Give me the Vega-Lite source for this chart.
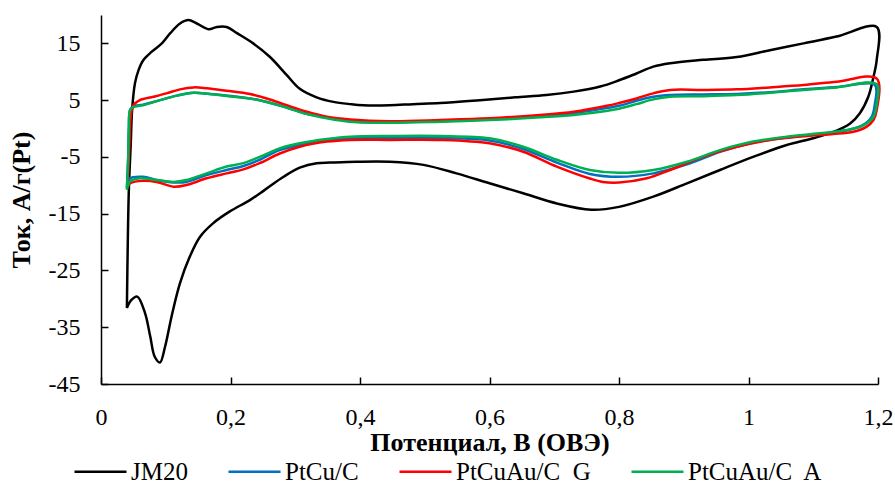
{
  "$schema": "https://vega.github.io/schema/vega-lite/v6.json",
  "width": 777,
  "height": 369,
  "autosize": {"type": "none"},
  "padding": {"left": 101, "top": 15, "right": 17, "bottom": 102},
  "background": "white",
  "config": {"view": {"stroke": null}, "font": "'Liberation Serif', 'Times New Roman', serif"},
  "datasets": {
    "cv": [
      {"s":"JM20","i":1,"x":0.040,"y":-31.6},
      {"s":"JM20","i":2,"x":0.043,"y":-10.8},
      {"s":"JM20","i":3,"x":0.046,"y":-2.6},
      {"s":"JM20","i":4,"x":0.048,"y":3.2},
      {"s":"JM20","i":5,"x":0.0525,"y":8.0},
      {"s":"JM20","i":6,"x":0.058,"y":10.3},
      {"s":"JM20","i":7,"x":0.065,"y":12.0},
      {"s":"JM20","i":8,"x":0.078,"y":13.5},
      {"s":"JM20","i":9,"x":0.094,"y":15.0},
      {"s":"JM20","i":10,"x":0.107,"y":16.8},
      {"s":"JM20","i":11,"x":0.122,"y":18.5},
      {"s":"JM20","i":12,"x":0.135,"y":19.1},
      {"s":"JM20","i":13,"x":0.148,"y":18.5},
      {"s":"JM20","i":14,"x":0.166,"y":17.5},
      {"s":"JM20","i":15,"x":0.179,"y":17.9},
      {"s":"JM20","i":16,"x":0.194,"y":17.9},
      {"s":"JM20","i":17,"x":0.21,"y":16.8},
      {"s":"JM20","i":18,"x":0.235,"y":15.0},
      {"s":"JM20","i":19,"x":0.261,"y":12.6},
      {"s":"JM20","i":20,"x":0.287,"y":9.4},
      {"s":"JM20","i":21,"x":0.307,"y":7.0},
      {"s":"JM20","i":22,"x":0.333,"y":5.5},
      {"s":"JM20","i":23,"x":0.359,"y":4.7},
      {"s":"JM20","i":24,"x":0.385,"y":4.3},
      {"s":"JM20","i":25,"x":0.405,"y":4.1},
      {"s":"JM20","i":26,"x":0.446,"y":4.1},
      {"s":"JM20","i":27,"x":0.482,"y":4.3},
      {"s":"JM20","i":28,"x":0.524,"y":4.5},
      {"s":"JM20","i":29,"x":0.585,"y":5.0},
      {"s":"JM20","i":30,"x":0.64,"y":5.5},
      {"s":"JM20","i":31,"x":0.688,"y":5.9},
      {"s":"JM20","i":32,"x":0.73,"y":6.5},
      {"s":"JM20","i":33,"x":0.771,"y":7.4},
      {"s":"JM20","i":34,"x":0.80,"y":8.5},
      {"s":"JM20","i":35,"x":0.827,"y":9.7},
      {"s":"JM20","i":36,"x":0.853,"y":10.9},
      {"s":"JM20","i":37,"x":0.879,"y":11.5},
      {"s":"JM20","i":38,"x":0.93,"y":12.1},
      {"s":"JM20","i":39,"x":0.982,"y":12.6},
      {"s":"JM20","i":40,"x":1.033,"y":13.8},
      {"s":"JM20","i":41,"x":1.085,"y":15.0},
      {"s":"JM20","i":42,"x":1.136,"y":16.2},
      {"s":"JM20","i":43,"x":1.198,"y":17.9},
      {"s":"JM20","i":44,"x":1.198,"y":12.1},
      {"s":"JM20","i":45,"x":1.193,"y":9.1},
      {"s":"JM20","i":46,"x":1.185,"y":5.6},
      {"s":"JM20","i":47,"x":1.172,"y":2.7},
      {"s":"JM20","i":48,"x":1.157,"y":0.9},
      {"s":"JM20","i":49,"x":1.131,"y":-0.6},
      {"s":"JM20","i":50,"x":1.100,"y":-1.7},
      {"s":"JM20","i":51,"x":1.059,"y":-2.9},
      {"s":"JM20","i":52,"x":1.007,"y":-5.0},
      {"s":"JM20","i":53,"x":0.956,"y":-7.3},
      {"s":"JM20","i":54,"x":0.905,"y":-9.65},
      {"s":"JM20","i":55,"x":0.853,"y":-12.0},
      {"s":"JM20","i":56,"x":0.80,"y":-13.8},
      {"s":"JM20","i":57,"x":0.757,"y":-14.3},
      {"s":"JM20","i":58,"x":0.704,"y":-13.2},
      {"s":"JM20","i":59,"x":0.652,"y":-11.4},
      {"s":"JM20","i":60,"x":0.60,"y":-9.65},
      {"s":"JM20","i":61,"x":0.549,"y":-7.9},
      {"s":"JM20","i":62,"x":0.498,"y":-6.4},
      {"s":"JM20","i":63,"x":0.446,"y":-5.85},
      {"s":"JM20","i":64,"x":0.395,"y":-5.85},
      {"s":"JM20","i":65,"x":0.354,"y":-6.0},
      {"s":"JM20","i":66,"x":0.333,"y":-6.1},
      {"s":"JM20","i":67,"x":0.307,"y":-6.9},
      {"s":"JM20","i":68,"x":0.282,"y":-8.5},
      {"s":"JM20","i":69,"x":0.253,"y":-10.8},
      {"s":"JM20","i":70,"x":0.23,"y":-12.6},
      {"s":"JM20","i":71,"x":0.199,"y":-14.6},
      {"s":"JM20","i":72,"x":0.173,"y":-16.7},
      {"s":"JM20","i":73,"x":0.153,"y":-19.05},
      {"s":"JM20","i":74,"x":0.137,"y":-22.6},
      {"s":"JM20","i":75,"x":0.122,"y":-27.25},
      {"s":"JM20","i":76,"x":0.109,"y":-33.1},
      {"s":"JM20","i":77,"x":0.099,"y":-38.4},
      {"s":"JM20","i":78,"x":0.091,"y":-41.2},
      {"s":"JM20","i":79,"x":0.083,"y":-40.2},
      {"s":"JM20","i":80,"x":0.076,"y":-36.6},
      {"s":"JM20","i":81,"x":0.068,"y":-32.5},
      {"s":"JM20","i":82,"x":0.056,"y":-29.6},
      {"s":"JM20","i":83,"x":0.047,"y":-30.2},
      {"s":"JM20","i":84,"x":0.040,"y":-31.6},

      {"s":"PtCu/C","i":1,"x":0.040,"y":-10.5},
      {"s":"PtCu/C","i":2,"x":0.042,"y":-5.0},
      {"s":"PtCu/C","i":3,"x":0.043,"y":0.0},
      {"s":"PtCu/C","i":4,"x":0.045,"y":3.3},
      {"s":"PtCu/C","i":5,"x":0.05,"y":3.9},
      {"s":"PtCu/C","i":6,"x":0.065,"y":4.2},
      {"s":"PtCu/C","i":7,"x":0.091,"y":5.0},
      {"s":"PtCu/C","i":8,"x":0.117,"y":5.8},
      {"s":"PtCu/C","i":9,"x":0.143,"y":6.3},
      {"s":"PtCu/C","i":10,"x":0.168,"y":6.1},
      {"s":"PtCu/C","i":11,"x":0.204,"y":5.7},
      {"s":"PtCu/C","i":12,"x":0.245,"y":5.0},
      {"s":"PtCu/C","i":13,"x":0.287,"y":3.7},
      {"s":"PtCu/C","i":14,"x":0.318,"y":2.6},
      {"s":"PtCu/C","i":15,"x":0.349,"y":1.9},
      {"s":"PtCu/C","i":16,"x":0.385,"y":1.3},
      {"s":"PtCu/C","i":17,"x":0.446,"y":1.1},
      {"s":"PtCu/C","i":18,"x":0.524,"y":1.3},
      {"s":"PtCu/C","i":19,"x":0.60,"y":1.6},
      {"s":"PtCu/C","i":20,"x":0.678,"y":2.2},
      {"s":"PtCu/C","i":21,"x":0.73,"y":2.7},
      {"s":"PtCu/C","i":22,"x":0.78,"y":3.6},
      {"s":"PtCu/C","i":23,"x":0.80,"y":4.0},
      {"s":"PtCu/C","i":24,"x":0.827,"y":4.9},
      {"s":"PtCu/C","i":25,"x":0.853,"y":5.6},
      {"s":"PtCu/C","i":26,"x":0.879,"y":5.9},
      {"s":"PtCu/C","i":27,"x":0.93,"y":6.0},
      {"s":"PtCu/C","i":28,"x":0.982,"y":6.1},
      {"s":"PtCu/C","i":29,"x":1.033,"y":6.4},
      {"s":"PtCu/C","i":30,"x":1.085,"y":6.9},
      {"s":"PtCu/C","i":31,"x":1.136,"y":7.3},
      {"s":"PtCu/C","i":32,"x":1.195,"y":7.7},
      {"s":"PtCu/C","i":33,"x":1.195,"y":4.2},
      {"s":"PtCu/C","i":34,"x":1.19,"y":2.0},
      {"s":"PtCu/C","i":35,"x":1.175,"y":0.5},
      {"s":"PtCu/C","i":36,"x":1.15,"y":-0.35},
      {"s":"PtCu/C","i":37,"x":1.11,"y":-0.95},
      {"s":"PtCu/C","i":38,"x":1.059,"y":-1.6},
      {"s":"PtCu/C","i":39,"x":1.007,"y":-2.5},
      {"s":"PtCu/C","i":40,"x":0.956,"y":-4.1},
      {"s":"PtCu/C","i":41,"x":0.905,"y":-6.3},
      {"s":"PtCu/C","i":42,"x":0.853,"y":-7.9},
      {"s":"PtCu/C","i":43,"x":0.80,"y":-8.5},
      {"s":"PtCu/C","i":44,"x":0.755,"y":-8.0},
      {"s":"PtCu/C","i":45,"x":0.704,"y":-6.0},
      {"s":"PtCu/C","i":46,"x":0.652,"y":-3.6},
      {"s":"PtCu/C","i":47,"x":0.60,"y":-2.1},
      {"s":"PtCu/C","i":48,"x":0.524,"y":-1.7},
      {"s":"PtCu/C","i":49,"x":0.446,"y":-1.7},
      {"s":"PtCu/C","i":50,"x":0.385,"y":-1.7},
      {"s":"PtCu/C","i":51,"x":0.349,"y":-2.1},
      {"s":"PtCu/C","i":52,"x":0.307,"y":-2.9},
      {"s":"PtCu/C","i":53,"x":0.276,"y":-3.8},
      {"s":"PtCu/C","i":54,"x":0.245,"y":-5.5},
      {"s":"PtCu/C","i":55,"x":0.22,"y":-6.6},
      {"s":"PtCu/C","i":56,"x":0.194,"y":-7.3},
      {"s":"PtCu/C","i":57,"x":0.163,"y":-8.2},
      {"s":"PtCu/C","i":58,"x":0.132,"y":-9.4},
      {"s":"PtCu/C","i":59,"x":0.112,"y":-9.5},
      {"s":"PtCu/C","i":60,"x":0.086,"y":-9.07},
      {"s":"PtCu/C","i":61,"x":0.065,"y":-8.5},
      {"s":"PtCu/C","i":62,"x":0.045,"y":-8.77},
      {"s":"PtCu/C","i":63,"x":0.040,"y":-10.5},

      {"s":"PtCuAu/C\u00a0 G","i":1,"x":0.041,"y":-10.3},
      {"s":"PtCuAu/C\u00a0 G","i":2,"x":0.043,"y":-5.0},
      {"s":"PtCuAu/C\u00a0 G","i":3,"x":0.044,"y":-2.6},
      {"s":"PtCuAu/C\u00a0 G","i":4,"x":0.046,"y":2.1},
      {"s":"PtCuAu/C\u00a0 G","i":5,"x":0.05,"y":4.1},
      {"s":"PtCuAu/C\u00a0 G","i":6,"x":0.06,"y":5.0},
      {"s":"PtCuAu/C\u00a0 G","i":7,"x":0.081,"y":5.6},
      {"s":"PtCuAu/C\u00a0 G","i":8,"x":0.101,"y":6.2},
      {"s":"PtCuAu/C\u00a0 G","i":9,"x":0.122,"y":6.9},
      {"s":"PtCuAu/C\u00a0 G","i":10,"x":0.143,"y":7.25},
      {"s":"PtCuAu/C\u00a0 G","i":11,"x":0.163,"y":7.1},
      {"s":"PtCuAu/C\u00a0 G","i":12,"x":0.194,"y":6.65},
      {"s":"PtCuAu/C\u00a0 G","i":13,"x":0.23,"y":6.07},
      {"s":"PtCuAu/C\u00a0 G","i":14,"x":0.256,"y":5.3},
      {"s":"PtCuAu/C\u00a0 G","i":15,"x":0.287,"y":4.1},
      {"s":"PtCuAu/C\u00a0 G","i":16,"x":0.318,"y":2.96},
      {"s":"PtCuAu/C\u00a0 G","i":17,"x":0.349,"y":2.08},
      {"s":"PtCuAu/C\u00a0 G","i":18,"x":0.385,"y":1.6},
      {"s":"PtCuAu/C\u00a0 G","i":19,"x":0.446,"y":1.3},
      {"s":"PtCuAu/C\u00a0 G","i":20,"x":0.524,"y":1.5},
      {"s":"PtCuAu/C\u00a0 G","i":21,"x":0.60,"y":1.8},
      {"s":"PtCuAu/C\u00a0 G","i":22,"x":0.678,"y":2.4},
      {"s":"PtCuAu/C\u00a0 G","i":23,"x":0.73,"y":2.96},
      {"s":"PtCuAu/C\u00a0 G","i":24,"x":0.781,"y":4.0},
      {"s":"PtCuAu/C\u00a0 G","i":25,"x":0.80,"y":4.5},
      {"s":"PtCuAu/C\u00a0 G","i":26,"x":0.827,"y":5.3},
      {"s":"PtCuAu/C\u00a0 G","i":27,"x":0.853,"y":6.2},
      {"s":"PtCuAu/C\u00a0 G","i":28,"x":0.879,"y":6.8},
      {"s":"PtCuAu/C\u00a0 G","i":29,"x":0.93,"y":6.8},
      {"s":"PtCuAu/C\u00a0 G","i":30,"x":0.982,"y":6.9},
      {"s":"PtCuAu/C\u00a0 G","i":31,"x":1.033,"y":7.25},
      {"s":"PtCuAu/C\u00a0 G","i":32,"x":1.085,"y":7.66},
      {"s":"PtCuAu/C\u00a0 G","i":33,"x":1.136,"y":8.24},
      {"s":"PtCuAu/C\u00a0 G","i":34,"x":1.198,"y":8.8},
      {"s":"PtCuAu/C\u00a0 G","i":35,"x":1.198,"y":3.26},
      {"s":"PtCuAu/C\u00a0 G","i":36,"x":1.193,"y":1.5},
      {"s":"PtCuAu/C\u00a0 G","i":37,"x":1.182,"y":0.3},
      {"s":"PtCuAu/C\u00a0 G","i":38,"x":1.162,"y":-0.56},
      {"s":"PtCuAu/C\u00a0 G","i":39,"x":1.131,"y":-0.97},
      {"s":"PtCuAu/C\u00a0 G","i":40,"x":1.090,"y":-1.3},
      {"s":"PtCuAu/C\u00a0 G","i":41,"x":1.033,"y":-2.0},
      {"s":"PtCuAu/C\u00a0 G","i":42,"x":0.982,"y":-3.2},
      {"s":"PtCuAu/C\u00a0 G","i":43,"x":0.930,"y":-4.96},
      {"s":"PtCuAu/C\u00a0 G","i":44,"x":0.879,"y":-7.3},
      {"s":"PtCuAu/C\u00a0 G","i":45,"x":0.843,"y":-8.77},
      {"s":"PtCuAu/C\u00a0 G","i":46,"x":0.80,"y":-9.5},
      {"s":"PtCuAu/C\u00a0 G","i":47,"x":0.775,"y":-9.4},
      {"s":"PtCuAu/C\u00a0 G","i":48,"x":0.755,"y":-8.8},
      {"s":"PtCuAu/C\u00a0 G","i":49,"x":0.704,"y":-6.7},
      {"s":"PtCuAu/C\u00a0 G","i":50,"x":0.652,"y":-4.08},
      {"s":"PtCuAu/C\u00a0 G","i":51,"x":0.60,"y":-2.6},
      {"s":"PtCuAu/C\u00a0 G","i":52,"x":0.524,"y":-2.0},
      {"s":"PtCuAu/C\u00a0 G","i":53,"x":0.446,"y":-2.0},
      {"s":"PtCuAu/C\u00a0 G","i":54,"x":0.385,"y":-2.0},
      {"s":"PtCuAu/C\u00a0 G","i":55,"x":0.349,"y":-2.3},
      {"s":"PtCuAu/C\u00a0 G","i":56,"x":0.307,"y":-3.2},
      {"s":"PtCuAu/C\u00a0 G","i":57,"x":0.276,"y":-4.4},
      {"s":"PtCuAu/C\u00a0 G","i":58,"x":0.245,"y":-6.1},
      {"s":"PtCuAu/C\u00a0 G","i":59,"x":0.22,"y":-7.2},
      {"s":"PtCuAu/C\u00a0 G","i":60,"x":0.194,"y":-7.9},
      {"s":"PtCuAu/C\u00a0 G","i":61,"x":0.163,"y":-8.77},
      {"s":"PtCuAu/C\u00a0 G","i":62,"x":0.132,"y":-9.95},
      {"s":"PtCuAu/C\u00a0 G","i":63,"x":0.112,"y":-10.25},
      {"s":"PtCuAu/C\u00a0 G","i":64,"x":0.086,"y":-9.4},
      {"s":"PtCuAu/C\u00a0 G","i":65,"x":0.065,"y":-9.2},
      {"s":"PtCuAu/C\u00a0 G","i":66,"x":0.045,"y":-9.65},
      {"s":"PtCuAu/C\u00a0 G","i":67,"x":0.041,"y":-10.3},

      {"s":"PtCuAu/C\u00a0 A","i":1,"x":0.040,"y":-10.8},
      {"s":"PtCuAu/C\u00a0 A","i":2,"x":0.042,"y":-5.0},
      {"s":"PtCuAu/C\u00a0 A","i":3,"x":0.043,"y":0.0},
      {"s":"PtCuAu/C\u00a0 A","i":4,"x":0.045,"y":3.26},
      {"s":"PtCuAu/C\u00a0 A","i":5,"x":0.05,"y":3.8},
      {"s":"PtCuAu/C\u00a0 A","i":6,"x":0.065,"y":4.1},
      {"s":"PtCuAu/C\u00a0 A","i":7,"x":0.091,"y":5.0},
      {"s":"PtCuAu/C\u00a0 A","i":8,"x":0.117,"y":5.8},
      {"s":"PtCuAu/C\u00a0 A","i":9,"x":0.143,"y":6.3},
      {"s":"PtCuAu/C\u00a0 A","i":10,"x":0.168,"y":6.07},
      {"s":"PtCuAu/C\u00a0 A","i":11,"x":0.204,"y":5.6},
      {"s":"PtCuAu/C\u00a0 A","i":12,"x":0.245,"y":5.0},
      {"s":"PtCuAu/C\u00a0 A","i":13,"x":0.287,"y":3.66},
      {"s":"PtCuAu/C\u00a0 A","i":14,"x":0.318,"y":2.55},
      {"s":"PtCuAu/C\u00a0 A","i":15,"x":0.349,"y":1.8},
      {"s":"PtCuAu/C\u00a0 A","i":16,"x":0.385,"y":1.2},
      {"s":"PtCuAu/C\u00a0 A","i":17,"x":0.446,"y":1.0},
      {"s":"PtCuAu/C\u00a0 A","i":18,"x":0.524,"y":1.2},
      {"s":"PtCuAu/C\u00a0 A","i":19,"x":0.60,"y":1.5},
      {"s":"PtCuAu/C\u00a0 A","i":20,"x":0.678,"y":1.97},
      {"s":"PtCuAu/C\u00a0 A","i":21,"x":0.73,"y":2.4},
      {"s":"PtCuAu/C\u00a0 A","i":22,"x":0.78,"y":3.1},
      {"s":"PtCuAu/C\u00a0 A","i":23,"x":0.80,"y":3.5},
      {"s":"PtCuAu/C\u00a0 A","i":24,"x":0.827,"y":4.3},
      {"s":"PtCuAu/C\u00a0 A","i":25,"x":0.853,"y":5.14},
      {"s":"PtCuAu/C\u00a0 A","i":26,"x":0.879,"y":5.6},
      {"s":"PtCuAu/C\u00a0 A","i":27,"x":0.93,"y":5.7},
      {"s":"PtCuAu/C\u00a0 A","i":28,"x":0.982,"y":5.9},
      {"s":"PtCuAu/C\u00a0 A","i":29,"x":1.033,"y":6.3},
      {"s":"PtCuAu/C\u00a0 A","i":30,"x":1.085,"y":6.8},
      {"s":"PtCuAu/C\u00a0 A","i":31,"x":1.136,"y":7.25},
      {"s":"PtCuAu/C\u00a0 A","i":32,"x":1.198,"y":7.8},
      {"s":"PtCuAu/C\u00a0 A","i":33,"x":1.198,"y":4.4},
      {"s":"PtCuAu/C\u00a0 A","i":34,"x":1.193,"y":2.08},
      {"s":"PtCuAu/C\u00a0 A","i":35,"x":1.178,"y":0.6},
      {"s":"PtCuAu/C\u00a0 A","i":36,"x":1.152,"y":-0.27},
      {"s":"PtCuAu/C\u00a0 A","i":37,"x":1.110,"y":-0.85},
      {"s":"PtCuAu/C\u00a0 A","i":38,"x":1.059,"y":-1.44},
      {"s":"PtCuAu/C\u00a0 A","i":39,"x":1.007,"y":-2.3},
      {"s":"PtCuAu/C\u00a0 A","i":40,"x":0.956,"y":-3.8},
      {"s":"PtCuAu/C\u00a0 A","i":41,"x":0.905,"y":-5.85},
      {"s":"PtCuAu/C\u00a0 A","i":42,"x":0.853,"y":-7.3},
      {"s":"PtCuAu/C\u00a0 A","i":43,"x":0.80,"y":-7.8},
      {"s":"PtCuAu/C\u00a0 A","i":44,"x":0.755,"y":-7.3},
      {"s":"PtCuAu/C\u00a0 A","i":45,"x":0.704,"y":-5.5},
      {"s":"PtCuAu/C\u00a0 A","i":46,"x":0.652,"y":-3.2},
      {"s":"PtCuAu/C\u00a0 A","i":47,"x":0.60,"y":-1.73},
      {"s":"PtCuAu/C\u00a0 A","i":48,"x":0.524,"y":-1.32},
      {"s":"PtCuAu/C\u00a0 A","i":49,"x":0.446,"y":-1.32},
      {"s":"PtCuAu/C\u00a0 A","i":50,"x":0.385,"y":-1.44},
      {"s":"PtCuAu/C\u00a0 A","i":51,"x":0.349,"y":-1.85},
      {"s":"PtCuAu/C\u00a0 A","i":52,"x":0.307,"y":-2.6},
      {"s":"PtCuAu/C\u00a0 A","i":53,"x":0.276,"y":-3.5},
      {"s":"PtCuAu/C\u00a0 A","i":54,"x":0.245,"y":-5.0},
      {"s":"PtCuAu/C\u00a0 A","i":55,"x":0.22,"y":-6.1},
      {"s":"PtCuAu/C\u00a0 A","i":56,"x":0.194,"y":-6.7},
      {"s":"PtCuAu/C\u00a0 A","i":57,"x":0.163,"y":-7.9},
      {"s":"PtCuAu/C\u00a0 A","i":58,"x":0.132,"y":-9.07},
      {"s":"PtCuAu/C\u00a0 A","i":59,"x":0.112,"y":-9.4},
      {"s":"PtCuAu/C\u00a0 A","i":60,"x":0.086,"y":-9.07},
      {"s":"PtCuAu/C\u00a0 A","i":61,"x":0.060,"y":-8.77},
      {"s":"PtCuAu/C\u00a0 A","i":62,"x":0.045,"y":-9.3},
      {"s":"PtCuAu/C\u00a0 A","i":63,"x":0.040,"y":-10.8}
    ]
  },
  "data": {"name": "cv"},
  "mark": {"type": "line", "strokeWidth": 2.5, "interpolate": "catmull-rom", "clip": false},
  "encoding": {
    "x": {
      "field": "x", "type": "quantitative",
      "scale": {"domain": [0, 1.2], "nice": false, "zero": false},
      "axis": {
        "values": [0, 0.2, 0.4, 0.6, 0.8, 1, 1.2],
        "labelExpr": "replace(datum.value + '', '.', ',')",
        "grid": false,
        "domainColor": "black", "domainWidth": 1.5,
        "tickColor": "black", "tickWidth": 1.5, "tickSize": -7,
        "labelFont": "'Liberation Serif', 'Times New Roman', serif", "labelFontSize": 24, "labelColor": "black",
        "labelPadding": 28, "labelFlush": false, "labelOverlap": false,
        "title": "Потенциал, В (ОВЭ)",
        "titleFont": "'Liberation Serif', 'Times New Roman', serif", "titleFontSize": 26, "titleFontWeight": "bold", "titleColor": "black",
        "titlePadding": 0
      }
    },
    "y": {
      "field": "y", "type": "quantitative",
      "scale": {"domain": [-45, 20], "nice": false, "zero": false},
      "axis": {
        "values": [-45, -35, -25, -15, -5, 5, 15],
        "labelExpr": "datum.value + ''",
        "grid": false,
        "domainColor": "black", "domainWidth": 1.5,
        "tickColor": "black", "tickWidth": 1.5, "tickSize": -7,
        "labelFont": "'Liberation Serif', 'Times New Roman', serif", "labelFontSize": 24, "labelColor": "black",
        "labelPadding": 28, "labelFlush": false, "labelOverlap": false,
        "title": "Ток, А/г(Pt)",
        "titleFont": "'Liberation Serif', 'Times New Roman', serif", "titleFontSize": 26, "titleFontWeight": "bold", "titleColor": "black",
        "titlePadding": 14
      }
    },
    "color": {
      "field": "s", "type": "nominal",
      "scale": {
        "domain": ["JM20", "PtCu/C", "PtCuAu/C\u00a0 G", "PtCuAu/C\u00a0 A"],
        "range": ["#000000", "#0070C0", "#FF0000", "#00B050"]
      },
      "legend": {
        "title": null, "orient": "none", "legendX": -28, "legendY": 429,
        "direction": "horizontal", "columns": 4, "columnPadding": 35,
        "symbolType": "stroke", "symbolSize": 2704, "symbolStrokeWidth": 2.5,
        "labelFont": "'Liberation Serif', 'Times New Roman', serif", "labelFontSize": 25, "labelColor": "black",
        "labelOffset": 3, "labelLimit": 400
      }
    },
    "order": {"field": "i", "type": "quantitative"}
  }
}
